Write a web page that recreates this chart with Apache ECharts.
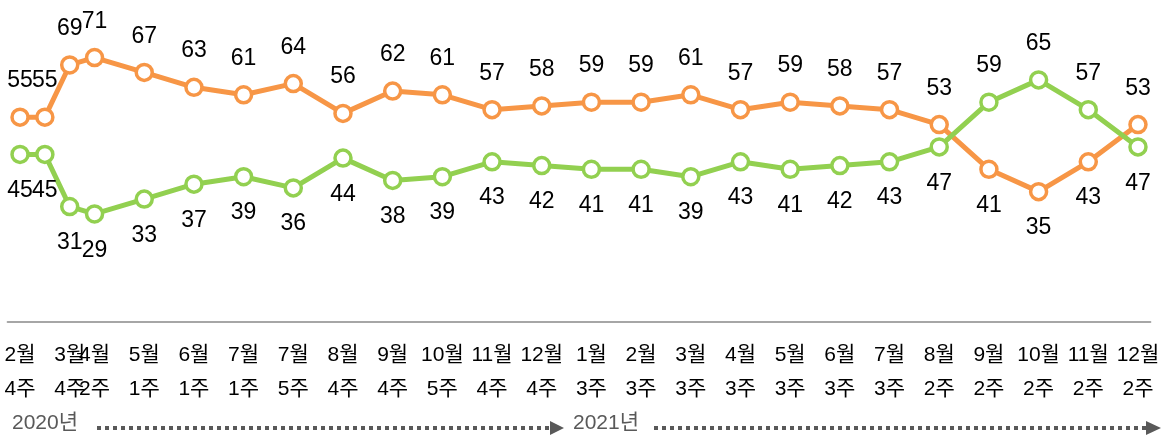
<!DOCTYPE html>
<html>
<head>
<meta charset="utf-8">
<script src="https://cdn.jsdelivr.net/npm/echarts@6/dist/echarts.min.js"></script>
<style>
  html, body { margin: 0; padding: 0; background: #fff; }
  #chart { width: 1164px; height: 438px; }
</style>
</head>
<body>
<div id="chart"></div>
<script>
// 조사 시점 (두 번째 조사는 라벨 없음)
const weeks = ['2월\n4주', '', '3월\n4주', '4월\n2주', '5월\n1주', '6월\n1주', '7월\n1주', '7월\n5주',
  '8월\n4주', '9월\n4주', '10월\n5주', '11월\n4주', '12월\n4주', '1월\n3주', '2월\n3주', '3월\n3주',
  '4월\n3주', '5월\n3주', '6월\n3주', '7월\n3주', '8월\n2주', '9월\n2주', '10월\n2주', '11월\n2주', '12월\n2주'];
const orangeValues = [55, 55, 69, 71, 67, 63, 61, 64, 56, 62, 61, 57, 58, 59, 59, 61, 57, 59, 58, 57, 53, 41, 35, 43, 53];
const greenValues = [45, 45, 31, 29, 33, 37, 39, 36, 44, 38, 39, 43, 42, 41, 41, 39, 43, 41, 42, 43, 47, 59, 65, 57, 47];
const yearLabels = ['2020년', '2021년'];

const ORANGE = '#F79646';
const GREEN = '#92D050';
const FONT = '"Liberation Sans", "Noto Sans CJK KR", sans-serif';

// 앞의 네 시점은 붙어 있고 그 뒤로는 한 칸씩 띄운다
let slots = [];
let orangeData = [];
let greenData = [];
weeks.forEach((w, i) => {
  let oPos = orangeValues[i] >= greenValues[i] ? 'top' : 'bottom';
  let gPos = oPos === 'top' ? 'bottom' : 'top';
  slots.push(w);
  orangeData.push({ value: orangeValues[i], label: { position: oPos } });
  greenData.push({ value: greenValues[i], label: { position: gPos } });
  if (i >= 3 && i < weeks.length - 1) {
    slots.push('');
    orangeData.push(null);
    greenData.push(null);
  }
});

function makeSeries(name, color, data) {
  return {
    name: name,
    type: 'line',
    connectNulls: true,
    symbol: 'circle',
    symbolSize: 16,
    showAllSymbol: true,
    lineStyle: { color: color, width: 5 },
    itemStyle: { color: '#fff', borderColor: color, borderWidth: 3.5 },
    label: {
      show: true,
      distance: 15,
      color: '#000',
      fontSize: 23,
      fontFamily: FONT
    },
    emphasis: { disabled: true },
    data: data
  };
}

const dom = echarts.init(document.getElementById('chart'));
const arrowColor = '#595959';
dom.setOption({
  animation: false,
  backgroundColor: '#fff',
  grid: { left: 7.6, right: 13.6, top: 24, bottom: 116 },
  xAxis: {
    type: 'category',
    boundaryGap: true,
    data: slots,
    axisLine: { lineStyle: { color: '#a6a6a6', width: 2 } },
    axisTick: { show: false },
    axisLabel: {
      interval: 0,
      margin: 16,
      color: '#000',
      fontSize: 21,
      lineHeight: 34,
      fontFamily: FONT
    }
  },
  yAxis: {
    type: 'value',
    min: 0,
    max: 80,
    show: false,
    splitLine: { show: false }
  },
  series: [
    makeSeries('주황', ORANGE, orangeData),
    makeSeries('초록', GREEN, greenData)
  ],
  graphic: [
    { type: 'text', left: 12, top: 413, style: { text: yearLabels[0], fill: '#595959', font: '21px ' + FONT } },
    { type: 'line', shape: { x1: 97, y1: 428, x2: 552, y2: 428 }, style: { stroke: arrowColor, lineWidth: 4, lineDash: [4, 4] } },
    { type: 'polygon', shape: { points: [[550, 421], [564, 428], [550, 435]] }, style: { fill: arrowColor } },
    { type: 'text', left: 573, top: 413, style: { text: yearLabels[1], fill: '#595959', font: '21px ' + FONT } },
    { type: 'line', shape: { x1: 654, y1: 428, x2: 1147, y2: 428 }, style: { stroke: arrowColor, lineWidth: 4, lineDash: [4, 4] } },
    { type: 'polygon', shape: { points: [[1146, 421], [1161, 428], [1146, 435]] }, style: { fill: arrowColor } }
  ]
});
</script>
</body>
</html>
